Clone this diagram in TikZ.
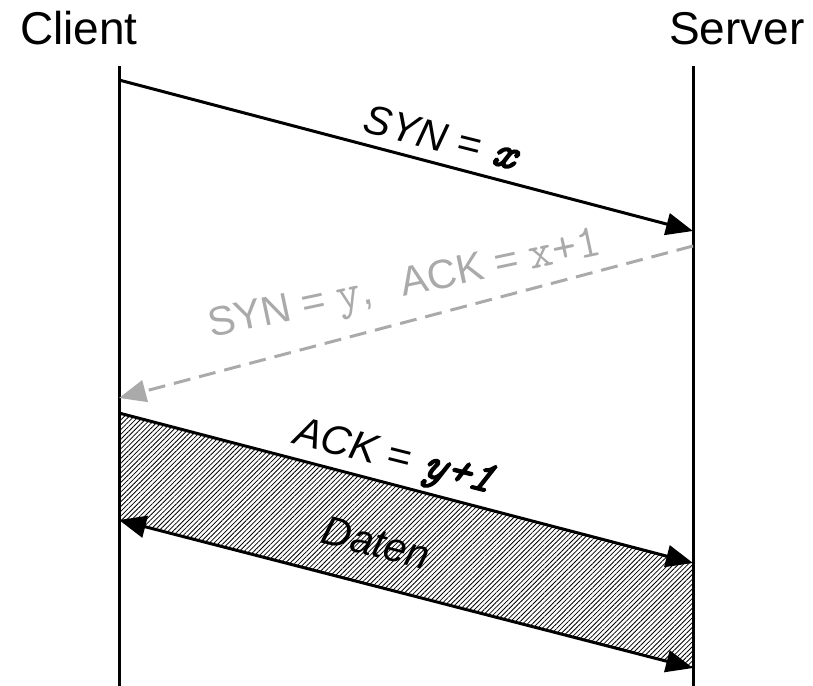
\documentclass[tikz,border=0pt]{standalone}
\usepackage{fontspec}
\setmainfont{Liberation Sans}
\newfontfamily\tcpboldfont{Latin Modern Mono}[FakeBold=3,FakeSlant=0.2]
\usetikzlibrary{arrows.meta,patterns.meta}

\definecolor{lightgraytext}{RGB}{170,170,170}
% typewriter values inside the labels
\newcommand{\tcpval}[1]{{\ttfamily\fontsize{47pt}{50pt}\selectfont #1}}
\newcommand{\tcpbval}[1]{{\tcpboldfont\fontsize{45pt}{48pt}\selectfont #1}}

\begin{document}
\begin{tikzpicture}[x=1pt,y=-1pt,
  lifeline/.style={line width=3pt},
  msg/.style={line width=3pt,-{Triangle[length=27pt,width=22pt]}},
  replymsg/.style={line width=3pt,lightgraytext,dash pattern=on 17pt off 9pt,
                   -{Triangle[length=27pt,width=22pt]}},
  datamsg/.style={line width=3pt,{Triangle[length=27pt,width=22pt]}-{Triangle[length=27pt,width=22pt]}},
  title/.style={font=\fontsize{46pt}{50pt}\selectfont,inner sep=0pt,anchor=base west},
  msglabel/.style={font=\fontsize{41pt}{45pt}\selectfont,inner sep=0pt,anchor=base}]

\useasboundingbox (0,0) rectangle (813,685);

% party names
\node[title] (client) at (20,45) {Client};
\node[title] (server) at (669,45) {Server};

% lifeline ends
\coordinate (ctop) at (119,66);
\coordinate (cbot) at (119,686);
\coordinate (stop) at (693,66);
\coordinate (sbot) at (693,686);

% message end points
\coordinate (c1) at (119,80);
\coordinate (s1) at (693,231);
\coordinate (s2) at (693,246);
\coordinate (c2) at (119,398);
\coordinate (c3) at (119,413);
\coordinate (s3) at (693,563);
\coordinate (c4) at (119,520);
\coordinate (s4) at (693,668);

% hatched data band
\fill[pattern={Lines[angle=45,distance=3.4pt,line width=0.8pt]}]
  (c3) -- (s3) -- (s4) -- (c4) -- cycle;

\draw[lifeline] (ctop) -- (cbot);
\draw[lifeline] (stop) -- (sbot);

\draw[msg] (c1) -- (s1);
\draw[replymsg] (s2) -- (c2);
\draw[msg] (c3) -- (s3);
\draw[datamsg] (c4) -- (s4);

% labels
\node[msglabel,rotate=-14] (l1) at (436.5,150.5)
  {\itshape SYN = \tcpbval{x}};
\node[msglabel,rotate=12,text=lightgraytext] (l2) at (407,296)
  {SYN = \tcpval{y},\hspace{30pt}ACK = \tcpval{x+1}};
\node[msglabel,rotate=-14] (l3) at (390,468)
  {\itshape ACK = \tcpbval{y+1}};
\node[msglabel,rotate=-14.5] (l4) at (372.5,556.5)
  {\itshape Daten};

\end{tikzpicture}
\end{document}
